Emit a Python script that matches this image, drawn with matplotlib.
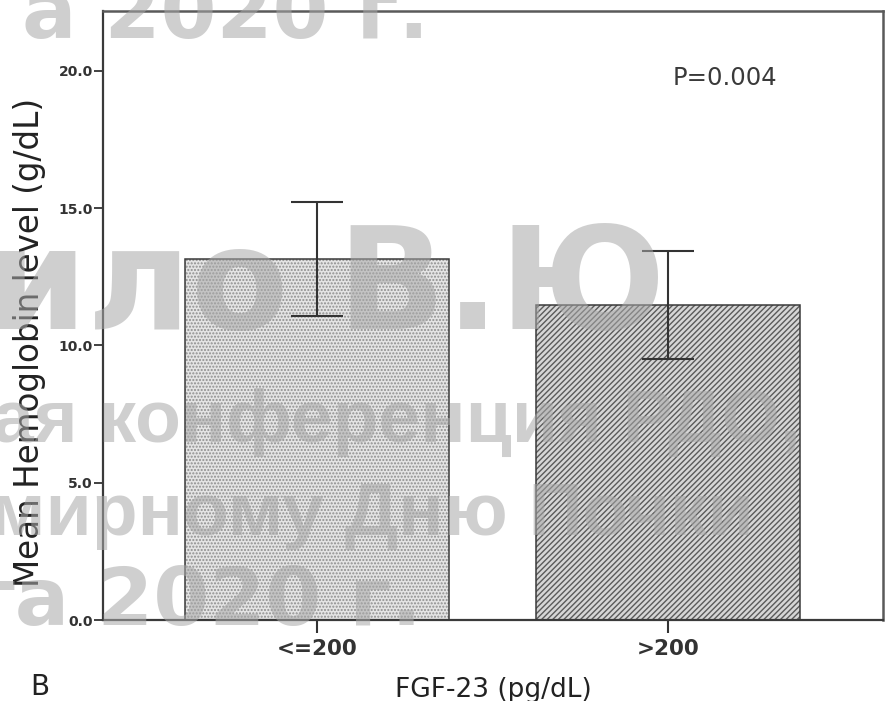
import matplotlib
matplotlib.use("Agg")
import matplotlib.pyplot as plt
import numpy as np

plt.rcParams['font.family'] = ['DejaVu Sans']
plt.rcParams['hatch.linewidth'] = 1.0

# ---- data ----
categories = ['<=200', '>200']
mean_hb = [13.15, 11.47]
err_hb = [2.08, 1.98]
y_ticks = [0.0, 5.0, 10.0, 15.0, 20.0]
y_ticklabels = ['0.0', '5.0', '10.0', '15.0', '20.0']
p_text = 'P=0.004'
x_label = 'FGF-23 (pg/dL)'
y_label = 'Mean Hemoglobin level (g/dL)'
panel = 'B'
watermark_lines = ['а 2020 г.', 'ило В.Ю', 'ая конференция РДО,', 'мирному Дню Почки', 'та 2020 г.']

W, H = 888, 701
fig = plt.figure(figsize=(W / 100, H / 100), dpi=100)
ax = fig.add_axes([103.3 / W, 81 / H, (882.7 - 103.3) / W, 609 / H])

x = np.arange(len(categories))
face = ['#e4e4e4', '#d6d6d6']
hatches = ['.....', '//////']
hcol = ['#8e8e8e', '#5a5a5a']
for i in range(len(categories)):
    ax.bar(x[i], mean_hb[i], width=0.75, color=face[i], hatch=hatches[i],
           edgecolor=hcol[i], linewidth=0, zorder=2)
ax.bar(x, mean_hb, width=0.75, fill=False, edgecolor='#3a3a3a', linewidth=1.1, zorder=3)
ax.errorbar(x, mean_hb, yerr=err_hb, fmt='none', ecolor='#333333', elinewidth=1.5,
            capsize=19, capthick=1.5, zorder=4)

ax.set_xlim(-0.609, 1.612)
ax.set_ylim(0, 22.18)
ax.set_xticks(x, categories, fontsize=15.5, fontweight='bold', color='#333333')
ax.set_yticks(y_ticks, y_ticklabels, fontsize=10, fontweight='bold', color='#333333')
ax.tick_params(axis='x', length=9, width=1.5, pad=5, color='#333333')
ax.tick_params(axis='y', length=6.5, width=1.3, pad=1, color='#333333')
for s in ['left', 'bottom']:
    ax.spines[s].set_color('#3a3a3a')
    ax.spines[s].set_linewidth(1.6)
for s in ['top', 'right']:
    ax.spines[s].set_color('#5a5a5a')
    ax.spines[s].set_linewidth(1.8)

ax.set_xlabel(x_label, fontsize=19, color='#222222')
ax.xaxis.set_label_coords(0.5, -0.093)
ax.set_ylabel(y_label, fontsize=23.5, color='#222222')
ax.yaxis.set_label_coords(-0.074, 0.4565)

ax.text(0.730, 0.890, p_text, transform=ax.transAxes, fontsize=17.5, color='#3a3a3a',
        ha='left', va='center')
fig.text(30 / W, 1 - 687 / H, panel, fontsize=20, color='#222222', ha='left', va='center')

# ---- watermark (semi-transparent stamp over the figure) ----
wm_style = [
    (22, 38, 58, ['DejaVu Sans']),
    (-12, 329, 102, ['DejaVu Sans']),
    (-8, 442, 54, ['Liberation Sans', 'DejaVu Sans']),
    (-10, 535, 54, ['Liberation Sans', 'DejaVu Sans']),
    (-32, 625, 58, ['DejaVu Sans']),
]
for txt, (px, py, fs, fam) in zip(watermark_lines, wm_style):
    fig.text(px / W, 1 - py / H, txt, fontsize=fs, fontweight='bold',
             family=fam, color='#a8a8a8', alpha=0.55,
             ha='left', va='baseline', zorder=10)

fig.savefig('out.png', dpi=100)
